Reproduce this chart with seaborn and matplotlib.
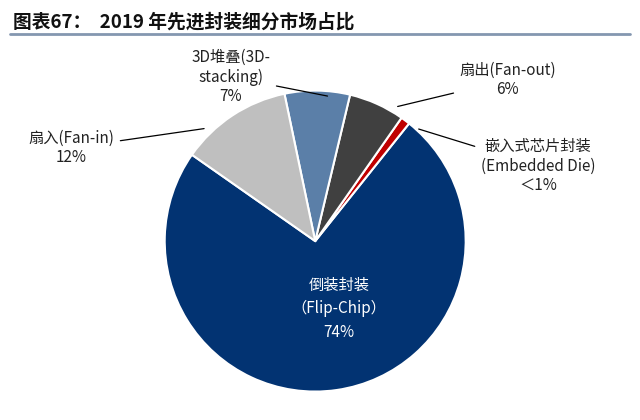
import seaborn as sns
import matplotlib.pyplot as plt

sns.set_theme(style="white")
plt.rcParams['font.family'] = ['Noto Sans CJK SC', 'DejaVu Sans']

# slices, counterclockwise from the Flip-Chip slice
segments = ['Flip-Chip', 'Embedded Die', 'Fan-out', '3D-stacking', 'Fan-in']
shares = [74, 1, 6, 7, 12]
colors = ['#023372', '#c00000', '#404040', '#5b7fa8', '#bfbfbf']

fig = plt.figure(figsize=(6.4, 4.2), dpi=100)
fig.text(0.02, 0.935, '图表67：  2019 年先进封装细分市场占比', fontsize=13.5,
         fontweight='bold', color='#111111')
fig.add_artist(plt.Line2D([0.015, 0.985], [0.918, 0.918], color='#8497b0', lw=2))

ax = fig.add_axes([0.255, 0.064, 0.475, 0.724])
wedges, _ = ax.pie(shares, colors=colors, startangle=145, counterclock=True,
                   wedgeprops=dict(edgecolor='white', linewidth=1.5))
ax.set_xlim(-1.01, 1.01)
ax.set_ylim(-1.01, 1.01)
ax.set_aspect('equal')

kw = dict(fontsize=11, color='#222222', ha='center', va='center',
          annotation_clip=False)
line = dict(arrowstyle='-', color='black', lw=0.9)
ax.annotate('3D堆叠(3D-\nstacking)\n7%', xy=(0.10, 0.96), xytext=(-0.56, 1.09),
            arrowprops=line, **kw)
ax.annotate('扇出(Fan-out)\n6%', xy=(0.53, 0.89), xytext=(1.28, 1.07),
            arrowprops=line, **kw)
ax.annotate('嵌入式芯片封装\n(Embedded Die)\n＜1%', xy=(0.67, 0.75), xytext=(1.48, 0.50),
            arrowprops=line, **kw)
ax.annotate('扇入(Fan-in)\n12%', xy=(-0.72, 0.75), xytext=(-1.62, 0.62),
            arrowprops=line, **kw)
ax.text(0.16, -0.45, '倒装封装\n（Flip-Chip）\n74%', fontsize=11, color='white',
        ha='center', va='center', linespacing=1.5)

fig.savefig('out.png', dpi=100)
